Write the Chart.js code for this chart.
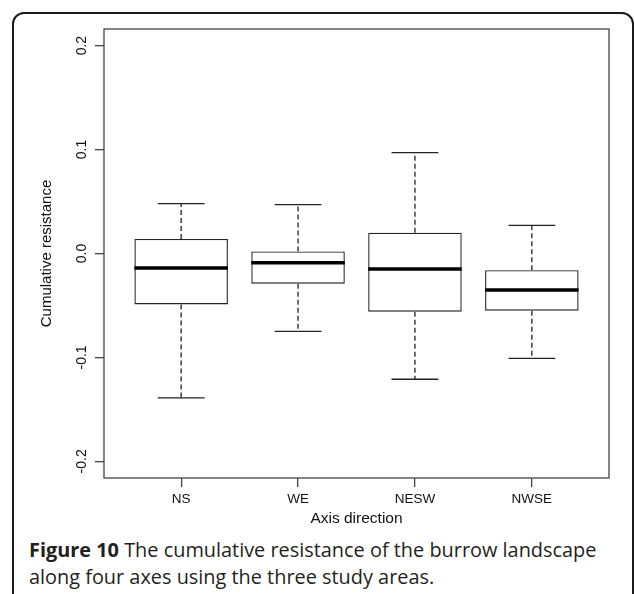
<!DOCTYPE html>
<html>
<head>
<meta charset="utf-8">
<script src="https://cdn.jsdelivr.net/npm/chart.js@4.4.1/dist/chart.umd.min.js"></script>
<style>
  html, body { margin: 0; padding: 0; background: #fff; }
  body { width: 634px; height: 594px; position: relative; overflow: hidden; }
  #frame {
    position: absolute; left: 12px; top: 12px; width: 622px; height: 640px;
    border: 2px solid #1a1a1a; border-radius: 12px; box-sizing: border-box;
  }
  #plot { position: absolute; left: 0; top: 0; }
  #caption {
    position: absolute; left: 29px; top: 537px;
    font-family: "Open Sans", sans-serif; font-size: 19.9px; font-weight: 500; line-height: 26.7px;
    color: #231f20; white-space: nowrap;
  }
  #caption b { font-weight: 700; }
</style>
</head>
<body>
<div id="frame"></div>
<canvas id="plot" width="634" height="535"></canvas>
<div id="caption"><b>Figure 10</b> The cumulative resistance of the burrow landscape<br>along four axes using the three study areas.</div>

<script>
// box plot values
const categories = ['NS', 'WE', 'NESW', 'NWSE'];
const whiskerHigh = [0.048, 0.047, 0.097, 0.027];
const upperQuartile = [0.014, 0.002, 0.020, -0.016];
const medians = [-0.014, -0.009, -0.015, -0.035];
const lowerQuartile = [-0.049, -0.029, -0.056, -0.055];
const whiskerLow = [-0.139, -0.075, -0.121, -0.101];
const yTicks = [-0.2, -0.1, 0.0, 0.1, 0.2];

const FONT = '"Liberation Sans", Arial, sans-serif';
const boxHalf = 0.4;   // half box width (x units)
const capHalf = 0.2;   // half whisker cap width

// builds line segments per category, separated by null gaps
function segments(fn) {
  const pts = [];
  categories.forEach((c, i) => {
    pts.push(...fn(i + 1, i));
    pts.push({ x: i + 1, y: null });
  });
  return pts;
}

const plotFrame = {
  id: 'plotFrame',
  afterDatasetsDraw(chart) {
    const { ctx, chartArea: a } = chart;
    ctx.save();
    ctx.strokeStyle = '#444';
    ctx.lineWidth = 1.3;
    ctx.strokeRect(a.left, a.top, a.right - a.left, a.bottom - a.top);
    ctx.restore();
  }
};

const lineBase = { type: 'line', pointRadius: 0, spanGaps: false, fill: false, tension: 0 };

new Chart(document.getElementById('plot'), {
  type: 'bar',
  data: {
    datasets: [
      {
        label: 'box',
        data: categories.map((c, i) => ({ x: i + 1, y: [lowerQuartile[i], upperQuartile[i]] })),
        backgroundColor: '#fff',
        borderColor: '#222',
        borderWidth: 1.4,
        borderSkipped: false,
        barPercentage: 0.8,
        categoryPercentage: 1,
        order: 3
      },
      {
        ...lineBase,
        label: 'whiskers',
        data: segments((x, i) => [
          { x, y: upperQuartile[i] }, { x, y: whiskerHigh[i] }, { x, y: null },
          { x, y: lowerQuartile[i] }, { x, y: whiskerLow[i] }
        ]),
        borderColor: '#222',
        borderWidth: 1.3,
        borderDash: [5, 3],
        order: 2
      },
      {
        ...lineBase,
        label: 'caps',
        data: segments((x, i) => [
          { x: x - capHalf, y: whiskerHigh[i] }, { x: x + capHalf, y: whiskerHigh[i] }, { x, y: null },
          { x: x - capHalf, y: whiskerLow[i] }, { x: x + capHalf, y: whiskerLow[i] }
        ]),
        borderColor: '#222',
        borderWidth: 1.3,
        order: 1
      },
      {
        ...lineBase,
        label: 'median',
        data: segments((x, i) => [
          { x: x - boxHalf, y: medians[i] }, { x: x + boxHalf, y: medians[i] }
        ]),
        borderColor: '#000',
        borderWidth: 3.5,
        borderCapStyle: 'butt',
        order: 0
      }
    ]
  },
  options: {
    responsive: false,
    animation: false,
    layout: { padding: { left: 30, right: 25, top: 29, bottom: 5 } },
    plugins: { legend: { display: false }, tooltip: { enabled: false } },
    scales: {
      x: {
        type: 'linear',
        min: 0.34,
        max: 4.66,
        offset: false,
        afterBuildTicks: s => { s.ticks = categories.map((c, i) => ({ value: i + 1 })); },
        afterFit: s => { s.height = 52; },
        ticks: {
          callback: v => categories[v - 1],
          font: { family: FONT, size: 13.5 },
          color: '#111',
          padding: 4,
          maxRotation: 0,
          autoSkip: false
        },
        grid: { display: true, offset: false, drawOnChartArea: false, drawTicks: true, tickLength: 9, color: '#444', lineWidth: 1.3 },
        border: { display: false },
        title: { display: true, text: 'Axis direction', font: { family: FONT, size: 15.5 }, color: '#111', padding: { top: 0, bottom: 2 } }
      },
      y: {
        min: -0.216,
        max: 0.216,
        afterBuildTicks: s => { s.ticks = yTicks.map(v => ({ value: v })); },
        afterFit: s => { s.width = 74; },
        ticks: {
          callback: v => v.toFixed(1),
          minRotation: 90,
          maxRotation: 90,
          crossAlign: 'center',
          padding: 0.5,
          font: { family: FONT, size: 14 },
          color: '#111'
        },
        grid: { display: true, offset: false, drawOnChartArea: false, drawTicks: true, tickLength: 9, color: '#444', lineWidth: 1.3 },
        border: { display: false },
        title: { display: true, text: 'Cumulative resistance', font: { family: FONT, size: 15 }, color: '#111', padding: { top: 8, bottom: 0 } }
      }
    }
  },
  plugins: [plotFrame]
});
</script>
</body>
</html>
